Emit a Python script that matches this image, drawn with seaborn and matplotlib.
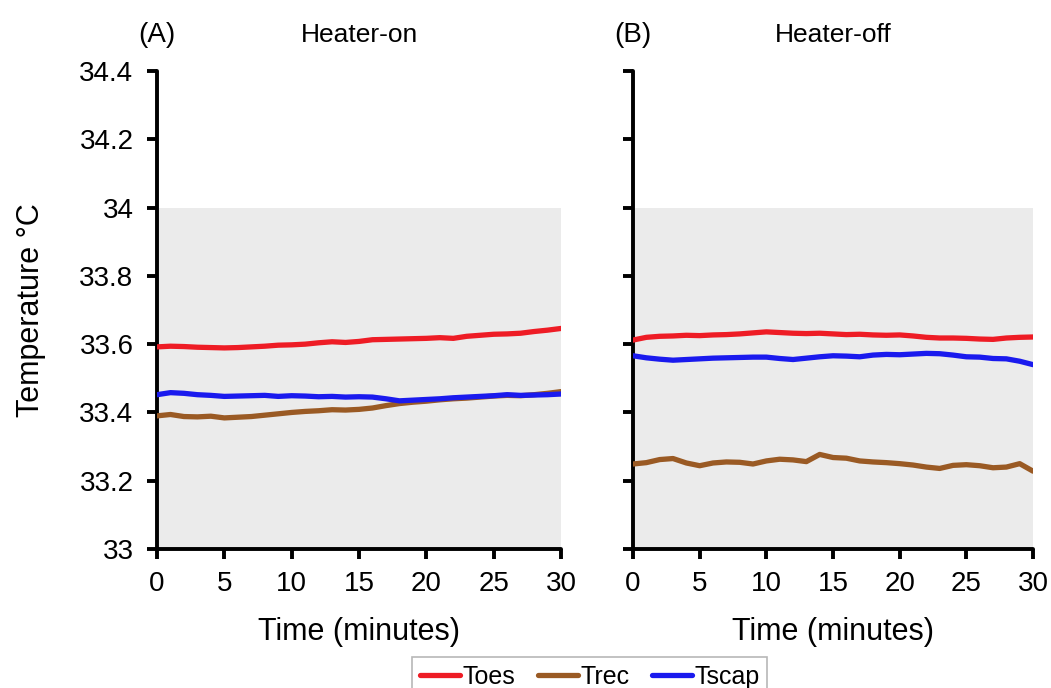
import numpy as np
import pandas as pd
import seaborn as sns
import matplotlib.pyplot as plt
from matplotlib.lines import Line2D

# Time axis (minutes)
minutes = list(range(0, 31))

# Heater-on panel
on_toes = [33.592, 33.594, 33.593, 33.591, 33.590, 33.589, 33.590, 33.592, 33.594, 33.597,
           33.598, 33.600, 33.604, 33.607, 33.605, 33.608, 33.613, 33.614, 33.615, 33.616,
           33.617, 33.619, 33.617, 33.623, 33.626, 33.629, 33.630, 33.632, 33.637, 33.641, 33.646]
on_trec = [33.390, 33.394, 33.388, 33.387, 33.389, 33.384, 33.386, 33.388, 33.392, 33.396,
           33.400, 33.403, 33.405, 33.408, 33.407, 33.409, 33.413, 33.420, 33.426, 33.430,
           33.433, 33.437, 33.440, 33.442, 33.445, 33.448, 33.450, 33.449, 33.452, 33.456, 33.461]
on_tscap = [33.452, 33.458, 33.456, 33.452, 33.450, 33.447, 33.448, 33.449, 33.450, 33.447,
            33.449, 33.448, 33.446, 33.447, 33.445, 33.446, 33.445, 33.440, 33.434, 33.436,
            33.438, 33.440, 33.443, 33.445, 33.447, 33.449, 33.452, 33.450, 33.451, 33.452, 33.454]

# Heater-off panel
off_toes = [33.612, 33.620, 33.623, 33.624, 33.626, 33.625, 33.627, 33.628, 33.630, 33.633,
            33.636, 33.634, 33.632, 33.631, 33.632, 33.630, 33.628, 33.629, 33.627, 33.626,
            33.627, 33.624, 33.620, 33.618, 33.618, 33.617, 33.615, 33.614, 33.618, 33.620, 33.621]
off_trec = [33.249, 33.253, 33.262, 33.265, 33.252, 33.244, 33.252, 33.255, 33.254, 33.249,
            33.258, 33.263, 33.261, 33.256, 33.277, 33.268, 33.266, 33.258, 33.255, 33.253,
            33.250, 33.246, 33.240, 33.236, 33.245, 33.247, 33.244, 33.238, 33.240, 33.250, 33.228]
off_tscap = [33.566, 33.560, 33.556, 33.553, 33.555, 33.557, 33.559, 33.560, 33.561, 33.562,
             33.562, 33.558, 33.555, 33.559, 33.563, 33.566, 33.565, 33.563, 33.568, 33.570,
             33.569, 33.571, 33.573, 33.572, 33.568, 33.563, 33.562, 33.558, 33.557, 33.550, 33.540]

series_names = ["Toes", "Trec", "Tscap"]
colors = {"Toes": "#ee1c25", "Trec": "#9a5a24", "Tscap": "#1a1aee"}
y_ticks = [33, 33.2, 33.4, 33.6, 33.8, 34, 34.2, 34.4]
y_tick_labels = ["33", "33.2", "33.4", "33.6", "33.8", "34", "34.2", "34.4"]
x_ticks = [0, 5, 10, 15, 20, 25, 30]


def to_long(toes, trec, tscap):
    rows = []
    for name, vals in zip(series_names, [toes, trec, tscap]):
        for t, v in zip(minutes, vals):
            rows.append((t, name, v))
    return pd.DataFrame(rows, columns=["Time", "Series", "Temp"])


df_on = to_long(on_toes, on_trec, on_tscap)
df_off = to_long(off_toes, off_trec, off_tscap)

sns.set_style("white")
plt.rcParams["font.family"] = ["Liberation Sans", "DejaVu Sans"]
plt.rcParams["text.color"] = "black"
plt.rcParams["axes.labelcolor"] = "black"

fig = plt.figure(figsize=(10.51, 6.88), dpi=100)
ax1 = fig.add_axes([0.1494, 0.202, 0.3844, 0.6948])
ax2 = fig.add_axes([0.6023, 0.202, 0.3806, 0.6948])

panels = [(ax1, df_on, "(A)", "Heater-on"), (ax2, df_off, "(B)", "Heater-off")]
for ax, df, tag, title in panels:
    ax.axhspan(33, 34, xmin=0.006, xmax=1, color="#ebebeb", zorder=0, lw=0)
    sns.lineplot(data=df, x="Time", y="Temp", hue="Series", palette=colors,
                 linewidth=3.8, ax=ax, legend=False, zorder=3)
    ax.set_xlim(0, 30)
    ax.set_ylim(33, 34.4)
    ax.set_xticks(x_ticks)
    ax.set_yticks(y_ticks)
    ax.set_facecolor("none")
    for side in ["top", "right"]:
        ax.spines[side].set_visible(False)
    for side in ["left", "bottom"]:
        ax.spines[side].set_linewidth(2.8)
        ax.spines[side].set_color("black")
        ax.spines[side].set_capstyle("round")
    ax.tick_params(axis="both", which="major", bottom=True, left=True,
                   direction="out", length=7, width=2.8, color="black",
                   labelcolor="black", labelsize=20)
    ax.tick_params(axis="y", pad=10)
    ax.tick_params(axis="x", pad=9)
    ax.set_xlabel("Time (minutes)", fontsize=22, labelpad=14)
    ax.text(0.0, 1.075, tag, transform=ax.transAxes, fontsize=20, ha="center", va="center")
    ax.text(0.5, 1.075, title, transform=ax.transAxes, fontsize=19, ha="center", va="center")

ax1.set_yticklabels(y_tick_labels)
ax1.set_ylabel("Temperature \u00b0C", fontsize=22, labelpad=24)
ax2.set_yticklabels([])
ax2.set_ylabel("")

handles = [Line2D([0], [0], color=colors[n], lw=3.8) for n in series_names]
leg = fig.legend(handles, series_names, loc="lower center", bbox_to_anchor=(0.561, -0.03),
                 ncol=3, fontsize=18, frameon=True, fancybox=False, handlelength=1.6,
                 handletextpad=0.1, columnspacing=0.9, borderpad=0.3)
leg.get_frame().set_edgecolor("#a6a6a6")
leg.get_frame().set_linewidth(1.2)

fig.savefig("out.png", dpi=100)
